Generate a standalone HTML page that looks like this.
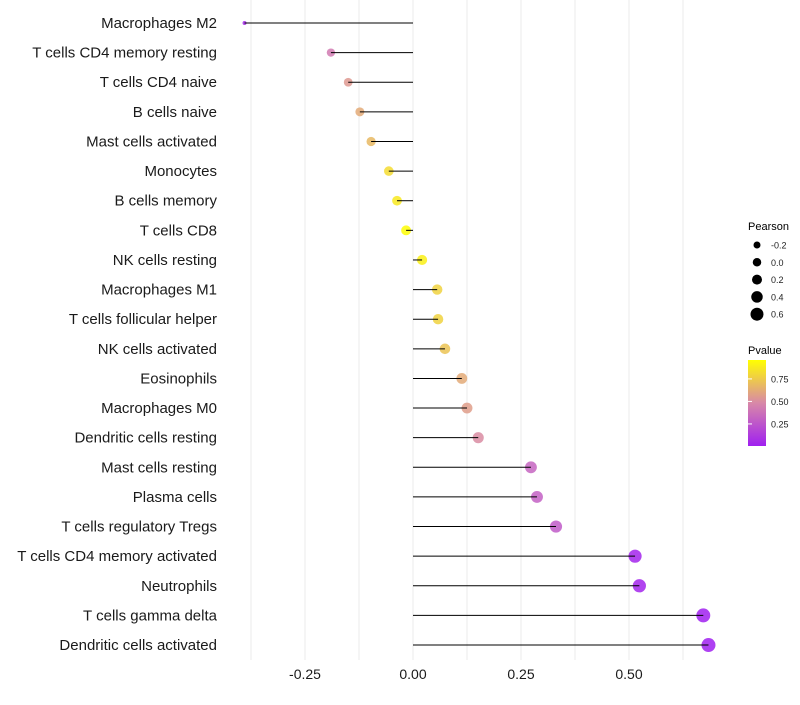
<!DOCTYPE html>
<html><head><meta charset="utf-8"><style>
body{margin:0;background:#fff;font-family:"Liberation Sans",sans-serif}
</style></head><body>
<svg id="chart" width="800" height="700" xmlns="http://www.w3.org/2000/svg" font-family="Liberation Sans, sans-serif">
<defs><linearGradient id="pg" x1="0" y1="1" x2="0" y2="0">
<stop offset="0" stop-color="#A020F0"/><stop offset="0.5" stop-color="#D888A8"/><stop offset="1" stop-color="#FFFF00"/></linearGradient></defs>
<g id="grid"></g>
<g id="dots"></g>
<g id="marks"></g>
<g id="ylab"></g>
<g id="xlab"></g>
<g id="sleg">
<text x="748" y="230" font-size="11">Pearson</text></g>
<g>
<text x="748" y="354" font-size="11">Pvalue</text>
<rect x="748" y="360" width="18" height="86" fill="url(#pg)"/>
<g id="cleg"></g></g>
</svg>
<script>
const categories=["Macrophages M2","T cells CD4 memory resting","T cells CD4 naive","B cells naive","Mast cells activated","Monocytes","B cells memory","T cells CD8","NK cells resting","Macrophages M1","T cells follicular helper","NK cells activated","Eosinophils","Macrophages M0","Dendritic cells resting","Mast cells resting","Plasma cells","T cells regulatory  Tregs ","T cells CD4 memory activated","Neutrophils","T cells gamma delta","Dendritic cells activated"];
const pearson=[-0.39,-0.19,-0.15,-0.123,-0.097,-0.056,-0.037,-0.016,0.021,0.056,0.058,0.074,0.113,0.125,0.151,0.273,0.287,0.331,0.514,0.524,0.672,0.684];
const pvalue=[0.05,0.42,0.55,0.62,0.68,0.82,0.87,0.95,0.9,0.78,0.78,0.72,0.62,0.57,0.5,0.32,0.3,0.27,0.03,0.03,0.005,0.005];
const xTicks=[-0.25,0,0.25,0.5];
const xTickLabels=["-0.25","0.00","0.25","0.50"];
const sizeBreaks=[-0.2,0,0.2,0.4,0.6];
const sizeLabels=["-0.2","0.0","0.2","0.4","0.6"];
const pBreaks=[0.75,0.5,0.25];
const pLabels=["0.75","0.50","0.25"];
const NS="http://www.w3.org/2000/svg";
const x=v=>413+v*432;
const y=i=>23+i*29.62;
const r=v=>2+5*Math.sqrt(Math.max(0,(v+0.39)/1.074));
function lerp(a,b,t){return a.map((c,i)=>Math.round(c+(b[i]-c)*t));}
function col(p){const lo=[160,32,240],mid=[216,136,168],hi=[255,255,0];const t=Math.max(0,Math.min(1,(p-0.005)/0.955));const c=t<0.5?lerp(lo,mid,t*2):lerp(mid,hi,(t-0.5)*2);return `rgb(${c})`;}
const py=p=>446-(p-0.005)/0.955*86;
function mk(tag,at,parent){const e=document.createElementNS(NS,tag);for(const k in at)e.setAttribute(k,at[k]);document.getElementById(parent).appendChild(e);return e;}
for(let g=-0.375;g<=0.63;g+=0.125){const l=mk('line',{x1:x(g),x2:x(g),y1:0,y2:660,stroke:'#ebebeb','stroke-width':1},'grid');

}
categories.forEach((c,i)=>{
const d=mk('circle',{cx:x(pearson[i]),cy:y(i),r:r(pearson[i]),fill:col(pvalue[i]),'fill-opacity':0.85},'dots');


const l=mk('line',{x1:x(0),x2:x(pearson[i]),y1:y(i),y2:y(i),stroke:'#000','stroke-width':1},'marks');


const t=mk('text',{x:217,y:y(i)+5,'text-anchor':'end','font-size':15,fill:'#1a1a1a'},'ylab');
t.textContent=c;


});
xTicks.forEach((v,i)=>{const t=mk('text',{x:x(v),y:679,'text-anchor':'middle','font-size':14,fill:'#1a1a1a'},'xlab');
t.textContent=xTickLabels[i];

});
sizeBreaks.forEach((v,i)=>{const yy=245+i*17.3;
const c=mk('circle',{cx:757,cy:yy,r:3.5+i*0.75,fill:'#000'},'sleg');


const t=mk('text',{x:771,y:yy+3.5,'font-size':9,fill:'#222'},'sleg');
t.textContent=sizeLabels[i];

});
pBreaks.forEach((v,i)=>{const yy=py(v);
const l=mk('line',{x1:748,x2:752,y1:yy,y2:yy,stroke:'#fff','stroke-width':1},'cleg');


const t=mk('text',{x:771,y:yy+3.5,'font-size':9,fill:'#222'},'cleg');
t.textContent=pLabels[i];

});
</script>
</body></html>
